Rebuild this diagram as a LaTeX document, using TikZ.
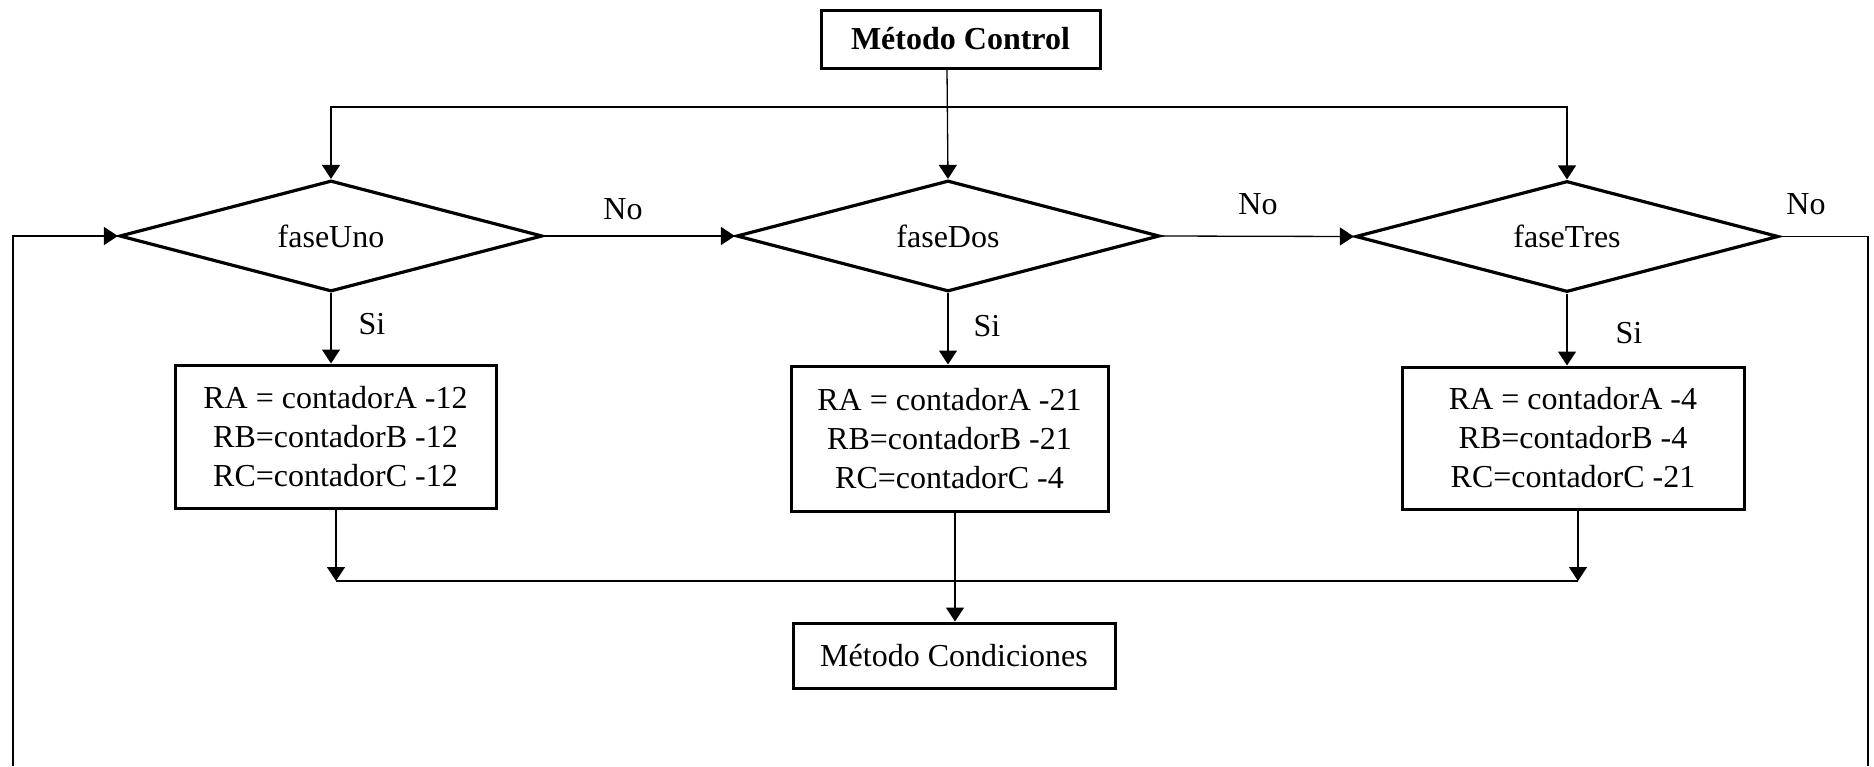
\documentclass[tikz,border=0pt]{standalone}
\usepackage{fontspec}
\setmainfont{Liberation Serif}
\usetikzlibrary{shapes.geometric,arrows.meta}
\begin{document}
\begin{tikzpicture}[x=1pt,y=-1pt,
  every node/.style={font=\fontsize{32}{39}\selectfont},
  box/.style={draw, line width=3pt, inner sep=0pt, align=center},
  dec/.style={draw, diamond, aspect=3.8, line width=3.2pt, inner sep=0pt, minimum width=423pt, minimum height=111pt},
  arr/.style={line width=1.3pt, -{Triangle[length=14pt,width=18pt]}},
  ln/.style={line width=1.3pt},
  lbl/.style={inner sep=0pt}]
\useasboundingbox (0,0) rectangle (1874,766);
% nodes
\node[box, minimum width=279pt, minimum height=58pt, font=\fontsize{32}{39}\selectfont\bfseries] (mc) at (960.5,39) {Método Control};
\node[dec] (fU) at (331,236) {faseUno};
\node[dec] (fD) at (948,236) {faseDos};
\node[dec] (fT) at (1567,236.5) {faseTres};
\node[box, minimum width=321pt, minimum height=143pt] (b1) at (335.5,436.5) {RA = contadorA -12\\RB=contadorB -12\\RC=contadorC -12};
\node[box, minimum width=317pt, minimum height=145pt] (b2) at (949.5,438.5) {RA = contadorA -21\\RB=contadorB -21\\RC=contadorC -4};
\node[box, minimum width=342pt, minimum height=142pt] (b3) at (1573,438) {RA = contadorA -4\\RB=contadorB -4\\RC=contadorC -21};
\node[box, minimum width=322pt, minimum height=65pt] (mcond) at (954,655.5) {Método Condiciones};
% labels
\node[lbl] (no1) at (623,209) {No};
\node[lbl] (no2) at (1258,204) {No};
\node[lbl] (no3) at (1806,204) {No};
\node[lbl] (si1) at (372,324) {Si};
\node[lbl] (si2) at (987,326) {Si};
\node[lbl] (si3) at (1629,333) {Si};
% coordinates
\coordinate (split) at (947,107);
\coordinate (loopR) at (1868,766);
\coordinate (loopL) at (13,766);
\coordinate (j1) at (336,581);
\coordinate (j3) at (1578,581);
% connectors
\draw[arr] (mc.south -| split) -- (fD.north);
\draw[arr] (split) -| (fU.north);
\draw[arr] (split) -| (fT.north);
\draw[arr] (fU.east) -- (fD.west);
\draw[arr] (fD.east) -- (fT.west);
\draw[ln] (fT.east) -| (loopR);
\draw[arr] (loopL) |- (fU.west);
\draw[arr] (fU.south) -- (fU.south |- b1.north);
\draw[arr] (fD.south) -- (fD.south |- b2.north);
\draw[arr] (fT.south) -- (fT.south |- b3.north);
\draw[arr] (b1.south -| j1) -- (j1);
\draw[arr] (b3.south -| j3) -- (j3);
\draw[ln] (j1) -- (j3);
\draw[arr] (b2.south -| 955,0) -- (mcond.north -| 955,0);
\end{tikzpicture}
\end{document}
